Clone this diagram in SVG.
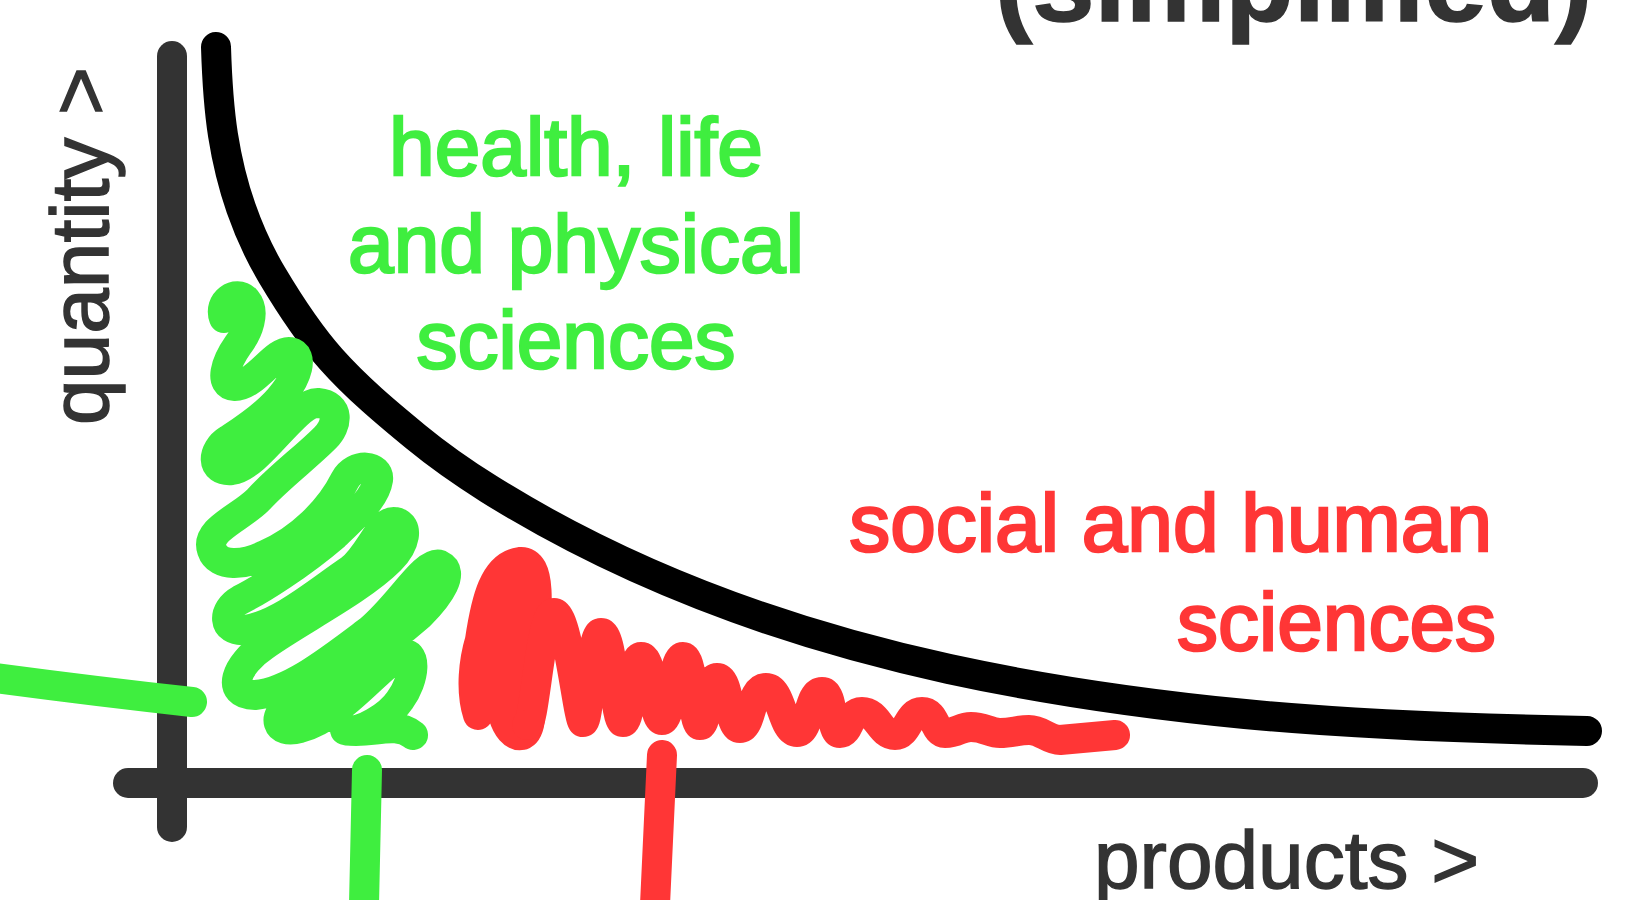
<svg xmlns="http://www.w3.org/2000/svg" width="1630" height="900" viewBox="0 0 1630 900">
<style>
.ax{fill:none;stroke:#333333;stroke-width:30;stroke-linecap:round}
.crv{fill:none;stroke:#000000;stroke-width:30;stroke-linecap:round}
.g{fill:none;stroke:#3fee3f;stroke-width:30;stroke-linecap:round;stroke-linejoin:round}
.r{fill:none;stroke:#ff3636;stroke-width:30;stroke-linecap:round;stroke-linejoin:round}
.t{font-family:"Liberation Sans",Arial,sans-serif;font-size:82px}
.gt{fill:#3fee3f;stroke:#3fee3f;stroke-width:2.5}
.rt{fill:#ff3636;stroke:#ff3636;stroke-width:2.5}
.dk{fill:#333333;stroke:#333333;stroke-width:1.5}
</style>
<rect width="1630" height="900" fill="#ffffff"/>
<g id="title">
<text class="t dk" x="995" y="21" style="font-size:112px;font-weight:bold">(simplified)</text>
</g>
<g id="axes">
<path class="ax" d="M172,56 L172,827"/>
<path class="ax" d="M128,783 L1583,783"/>
</g>
<g id="curve">
<path class="crv" d="M216,47 C216.9,76.4 218.5,106 223,135 C226.9,159.8 232.7,184.3 241,208 C249.1,231.2 259.4,253.9 272,275 C289.5,304.4 308.3,333.4 331,359 C356.6,387.8 386.3,412.6 416,437 C439.1,456 463.7,473.1 489,489 C628,576 789,634 949,669 C1046.5,690.2 1145.7,704.3 1245,714 C1358.6,725 1472.9,728.7 1587,731"/>
</g>
<g id="green-scribble">
<path class="g" d="M-5,678 Q100,692 192,702"/>
<path class="g" d="M367,770 L364,905"/>
<path class="g" d="M224,318 C218,302 236,290 246,300 C256,312 248,332 238,345 C226,362 218,385 235,386 C255,386 275,350 290,352 C305,355 296,378 284,393 C268,415 240,432 228,440 C212,450 210,472 232,470 C260,466 295,402 318,403 C340,405 338,425 325,438 C305,458 278,478 258,500 C240,518 205,530 212,550 C218,568 245,565 265,555 C300,540 330,510 345,480 C355,462 380,465 378,480 C375,500 350,520 335,535 C300,565 260,590 240,600 C222,610 222,632 245,630 C280,625 320,590 350,570 C370,555 380,520 395,522 C410,525 405,545 390,560 C360,590 300,620 265,645 C235,665 225,695 255,695 C290,692 330,660 370,630 C400,605 425,560 440,565 C455,572 440,595 420,615 C380,650 320,690 290,705 C272,715 275,735 300,728 C340,718 380,665 400,655 C418,648 415,680 400,700 C390,715 360,735 345,730 C370,735 395,720 413,735"/>
</g>
<g id="red-scribble">
<path class="r" d="M662,755 L655,905"/>
<path class="r" d="M478,715 C470,690 474,660 480,640 C486,600 494,566 520,562 C542,560 538,610 532,650 C528,690 536,730 522,735 C505,738 496,700 500,670 C504,640 512,610 522,600 M510,690 C505,660 515,630 525,620 M500,610 L518,578"/>
<path class="r" d="M527,725 C535,725 540,613 554,613 C568,613 578,722 583,722 C590,722 590,633 601,633 C614,633 614,722 623,722 C632,722 630,657 641,657 C654,657 652,720 662,720 C672,720 672,657 683,657 C694,657 692,725 700,725 C708,725 706,678 717,678 C730,678 728,728 740,728 C752,728 750,688 766,688 C782,688 782,732 797,732 C810,732 808,692 822,692 C834,692 830,733 840,733 C850,733 848,712 862,712 C878,712 880,735 895,735 C908,735 908,712 922,712 C936,712 934,733 945,733 C958,733 960,727 971,727 C984,727 990,733 1000,733 C1012,733 1018,730 1029,730 C1042,730 1048,740 1060,740 L1115,735"/>
</g>
<g id="labels">
<text class="t gt" text-anchor="middle" x="576" y="175">health, life</text>
<text class="t gt" text-anchor="middle" x="576" y="272">and physical</text>
<text class="t gt" text-anchor="middle" x="576" y="368">sciences</text>
<text class="t rt" text-anchor="end" x="1492" y="551">social and human</text>
<text class="t rt" text-anchor="end" x="1496" y="650">sciences</text>
<text class="t dk" transform="translate(108,425) rotate(-90)">quantity &gt;</text>
<text class="t dk" x="1094" y="888">products &gt;</text>
</g>
</svg>
